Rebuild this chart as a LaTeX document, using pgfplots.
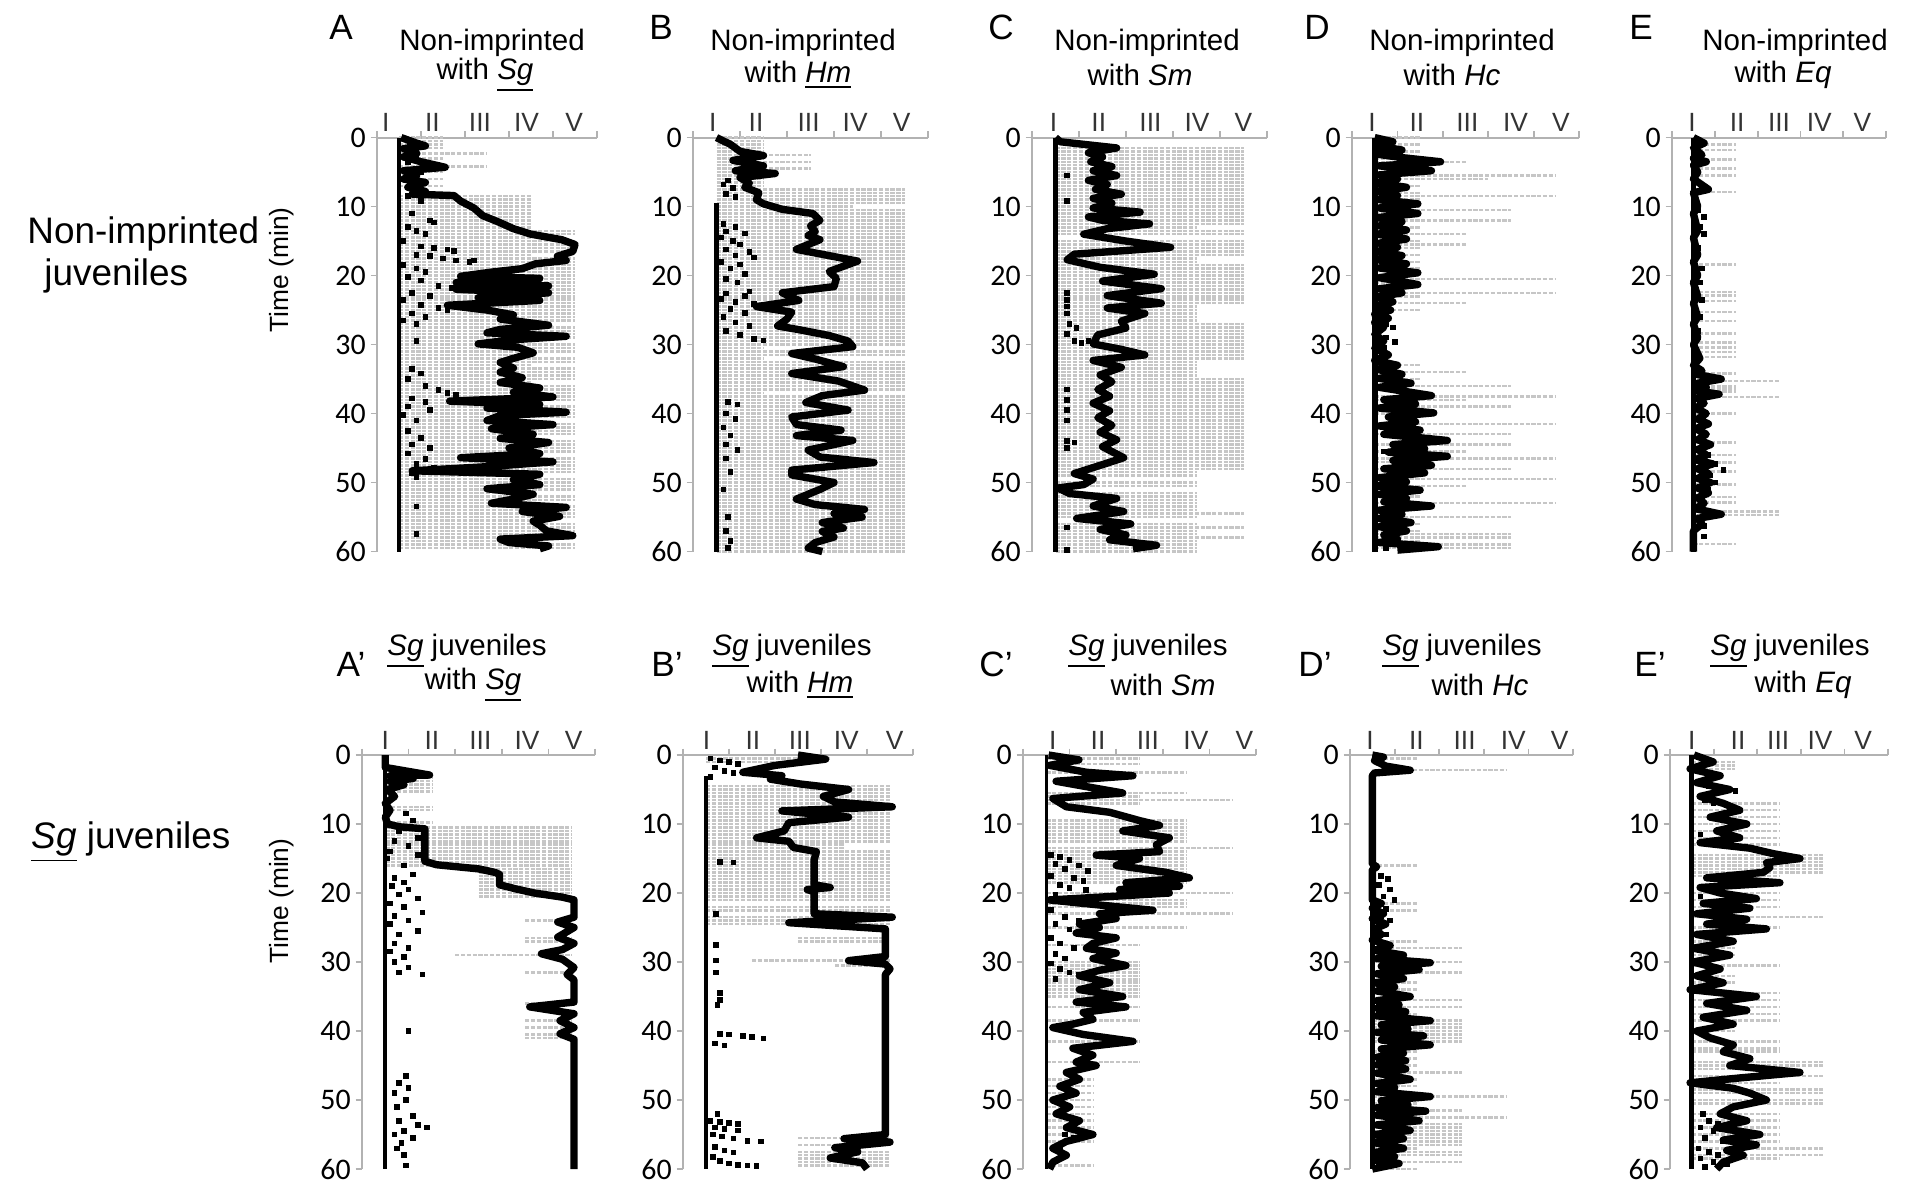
\documentclass[border=0pt]{standalone}
\usepackage{fontspec}
\setmainfont{Liberation Sans}
\newfontfamily\carlito{Carlito}
\usepackage{pgfplots}
\pgfplotsset{compat=1.18}

\pgfplotsset{
  panel/.style={
    scale only axis, anchor=north west,
    xmin=0, xmax=5, ymin=0, ymax=60, y dir=reverse,
    axis x line*=top, axis y line*=left, clip=false,
    axis line style={gray!60, line width=0.6pt},
    tick style={gray!60, line width=0.5pt},
    tick align=outside, major tick length=1.8pt,
    xtick={0,1,2,3,4,5}, xticklabels={,,,,,},
    ytick={0,10,20,30,40,50,60},
    /pgf/number format/assume math mode=true,
    yticklabel style={font=\carlito\fontsize{8.5}{9}\selectfont, inner sep=1.2pt},
    xticklabel style={font=\fontsize{7.5}{8}\selectfont, text=black!80, inner sep=1.5pt},
    extra x tick style={major tick length=0pt},
    extra x tick labels={I,II,III,IV,V},
  },
  graylines/.style={draw=none, mark=none, forget plot,
    error bars/x dir=plus, error bars/x explicit, error bars/error mark=none,
    error bars/error bar style={draw=gray!45, line width=0.7pt, dash pattern=on 1.2pt off 0.45pt}},
  stage/.style={black, line width=2.1pt, line join=round, mark=none},
  dots/.style={only marks, mark=square*, mark size=0.6pt, black},
  col/.style={black, mark=none, line width=#1},
}

\begin{document}
\begin{tikzpicture}

% ---------- A ----------
\begin{axis}[panel, at={(3.77cm,-1.376cm)}, width=2.20cm, height=4.139cm,
  extra x ticks={0.2,1.26,2.34,3.4,4.48}]
\addplot[graylines] table[x=x, y=y, x error=e, row sep=\\]{x y e\\
.5 0 1\\.5 .5 1\\.5 1 1\\.5 1.5 1\\.5 2.3 2\\.5 3 1\\.5 4.2 2\\.5 5 1\\.5 6 1\\.5 7 1\\
.5 8.5 3\\.5 9 3\\.5 9.5 3\\.5 10 3\\.5 10.5 3\\.5 11 3\\.5 11.5 3\\.5 12 3\\.5 12.5 3\\.5 13 3\\
.5 13.5 4\\.5 14 4\\.5 14.5 3\\.5 15 4\\.5 15.5 4\\.5 16 4\\.5 16.5 4\\.5 17 3\\.5 17.5 4\\.5 18 4\\
.5 18.5 4\\.5 19 4\\.5 19.5 4\\.5 20 4\\.5 20.5 4\\.5 21 4\\.5 21.5 4\\.5 22 4\\.5 22.5 4\\.5 23 4\\
.5 23.5 4\\.5 24 4\\.5 24.5 4\\.5 25 4\\.5 25.5 4\\.5 26 4\\.5 26.5 4\\.5 27 3\\.5 27.5 4\\.5 28 4\\
.5 28.5 4\\.5 29 4\\.5 29.5 3\\.5 30 4\\.5 30.5 4\\.5 31 4\\.5 31.5 3\\.5 32 4\\.5 32.5 4\\.5 33 3\\
.5 33.5 4\\.5 34 4\\.5 34.5 4\\.5 35 4\\.5 35.5 3\\.5 36 4\\.5 36.5 4\\.5 37 4\\.5 37.5 4\\.5 38 4\\
.5 38.5 3\\.5 39 4\\.5 39.5 4\\.5 40 4\\.5 40.5 4\\.5 41 3\\.5 41.5 4\\.5 42 4\\.5 42.5 4\\.5 43 4\\
.5 43.5 3\\.5 44 4\\.5 44.5 4\\.5 45 4\\.5 45.5 4\\.5 46 3\\.5 46.5 4\\.5 47 4\\.5 47.5 4\\.5 48 4\\
.5 48.5 4\\.5 49 3\\.5 49.5 4\\.5 50 4\\.5 50.5 4\\.5 51 4\\.5 51.5 3\\.5 52 4\\.5 52.5 4\\.5 53 3\\
.5 53.5 4\\.5 54 4\\.5 54.5 4\\.5 55 4\\.5 55.5 3\\.5 56 4\\.5 56.5 4\\.5 57 4\\.5 57.5 4\\.5 58 4\\
.5 58.5 3\\.5 59 4\\.5 59.5 4\\};
\addplot[col=1pt] coordinates {(0.5,0)(0.5,60)};
\addplot[dots] coordinates {(0.75,1)(0.9,2.5)(0.7,3.5)(1.0,5)(0.8,6.5)(0.7,8.5)(1.0,9.2)(0.8,11)(1.2,12)(1.3,12.3)(0.7,13)(0.9,13.5)(1.1,14)(0.6,15)(1.0,15.8)(1.3,16)(1.6,16.2)(1.75,16.4)(0.9,17)(1.2,17.2)(1.5,17.5)(1.8,17.8)(2.1,18)(2.2,17.8)(0.6,18.5)(0.9,19)(1.1,19.5)(0.7,20.2)(1.0,20.7)(1.4,21.5)(1.7,21.8)(1.9,22)(0.8,22.5)(1.2,23)(0.6,23.5)(1.0,24.3)(1.4,24.7)(1.6,25)(0.8,25.5)(1.1,26)(0.6,26.5)(0.9,27)(0.9,29.5)(0.8,33.5)(1.0,34.2)(0.7,35)(1.1,36)(1.4,36.6)(1.6,37)(1.8,37.3)(0.8,37.8)(1.1,38.3)(0.7,39)(1.2,39.5)(0.6,40.2)(0.9,41)(0.7,42.5)(1.0,43.5)(0.8,44.5)(1.2,45)(0.7,45.8)(1.1,46.6)(0.9,47.3)(1.3,47.8)(0.8,48.6)(0.9,49.2)(0.9,53.5)(0.9,57.5)};
\addplot[stage] coordinates {(0.55,0)(0.9,0.8)(1.1,1.2)(0.6,1.6)(0.9,2.3)(0.6,2.8)(1.0,3.5)(1.55,4.3)(0.6,4.8)(0.9,5.5)(0.6,6.0)(1.1,6.5)(0.7,7.2)(1.1,7.8)(0.8,8.2)(1.75,8.4)(1.9,9.2)(2.2,10.2)(2.4,11.3)(2.75,12.2)(3.1,13.2)(3.5,14.0)(4.2,14.8)(4.5,15.5)(4.45,16.5)(4.1,17.2)(4.3,17.8)(3.6,18.3)(3.3,19.0)(2.6,19.5)(1.9,20.1)(3.7,20.4)(1.8,21.0)(3.9,21.5)(1.8,22.0)(3.9,22.5)(2.3,23.2)(3.7,23.6)(1.6,24.3)(2.5,25.0)(3.1,25.7)(2.8,26.3)(3.9,27.2)(2.8,27.8)(2.5,28.3)(4.3,28.8)(3.1,29.3)(2.3,29.9)(3.2,30.4)(3.55,31.2)(3.1,32.0)(2.8,32.6)(3.1,33.4)(2.8,34.0)(3.3,34.8)(2.8,35.5)(3.7,36.3)(3.1,36.9)(4.0,37.6)(1.65,38.2)(3.7,38.7)(2.5,39.2)(4.3,39.8)(2.8,40.3)(2.5,41.0)(4.0,41.6)(2.6,42.2)(3.55,43.0)(2.8,43.6)(3.9,44.2)(3.0,45.0)(3.7,45.8)(1.9,46.4)(4.0,47.0)(2.5,47.7)(0.8,48.3)(3.7,48.8)(3.1,49.6)(3.7,50.3)(2.5,50.9)(3.55,51.7)(3.1,52.4)(2.6,53.0)(4.3,53.6)(3.3,54.2)(4.15,54.9)(3.55,55.6)(3.7,56.2)(3.85,57.0)(4.45,57.7)(2.8,58.2)(3.0,58.7)(3.9,59.2)(3.7,59.6)};
\end{axis}

% ---------- B ----------
\begin{axis}[panel, at={(6.93cm,-1.376cm)}, width=2.35cm, height=4.139cm,
  extra x ticks={0.42,1.34,2.46,3.45,4.44}]
\addplot[graylines] table[x=x, y=y, x error=e, row sep=\\]{x y e\\
.5 0 1\\.5 .5 1\\.5 1 1\\.5 1.5 1\\.5 2 1\\.5 2.5 2\\.5 3 1\\.5 3.5 2\\.5 4 1\\.5 4.5 2\\.5 5 1\\.5 5.5 1\\.5 6 1\\.5 6.5 1\\.5 7 1\\
.5 7.5 4\\.5 8 4\\.5 8.5 4\\.5 9 4\\.5 9.5 4\\.5 10 2.9\\.5 10.5 4\\.5 11 4\\.5 11.5 4\\.5 12 4\\
.5 12.5 4\\.5 13 4\\.5 13.5 4\\.5 14 4\\.5 14.5 4\\.5 15 4\\.5 15.5 4\\.5 16 4\\.5 16.5 4\\.5 17 4\\
.5 17.5 4\\.5 18 4\\.5 18.5 4\\.5 19 4\\.5 19.5 4\\.5 20 4\\.5 20.5 4\\.5 21 4\\.5 21.5 4\\.5 22 4\\
.5 22.5 4\\.5 23 4\\.5 23.5 4\\.5 24 4\\.5 24.5 4\\.5 25 4\\.5 25.5 4\\.5 26 4\\.5 26.5 4\\.5 27 4\\
.5 27.5 4\\.5 28 4\\.5 28.5 4\\.5 29 4\\.5 29.5 4\\.5 30 4\\.5 30.5 1\\.5 31 4\\.5 31.5 4\\.5 32 1\\
.5 32.5 4\\.5 33 4\\.5 33.5 4\\.5 34 4\\.5 34.5 4\\.5 35 4\\.5 35.5 4\\.5 36 4\\.5 36.5 4\\.5 37 1\\
.5 37.5 4\\.5 38 4\\.5 38.5 4\\.5 39 4\\.5 39.5 4\\.5 40 4\\.5 40.5 4\\.5 41 4\\.5 41.5 4\\.5 42 4\\
.5 42.5 4\\.5 43 4\\.5 43.5 4\\.5 44 4\\.5 44.5 4\\.5 45 4\\.5 45.5 4\\.5 46 4\\.5 46.5 4\\.5 47 4\\
.5 47.5 4\\.5 48 4\\.5 48.5 4\\.5 49 4\\.5 49.5 4\\.5 50 4\\.5 50.5 4\\.5 51 4\\.5 51.5 4\\.5 52 4\\
.5 52.5 4\\.5 53 4\\.5 53.5 4\\.5 54 4\\.5 54.5 4\\.5 55 4\\.5 55.5 4\\.5 56 4\\.5 56.5 4\\.5 57 4\\
.5 57.5 4\\.5 58 4\\.5 58.5 4\\.5 59 4\\.5 59.5 4\\.5 60 4\\};
\addplot[col=1.2pt] coordinates {(0.5,9.5)(0.5,60)};
\addplot[dots] coordinates {(0.75,6.2)(0.65,6.8)(0.85,7.3)(0.7,8.2)(0.9,8.6)(0.65,12.5)(0.9,13)(0.7,13.6)(1.1,13.9)(0.6,14.5)(0.85,15)(1.0,15.5)(0.7,16.2)(1.2,16.6)(0.9,17.1)(1.3,17.4)(0.6,18)(1.0,18.4)(0.8,19)(1.1,19.8)(0.7,20.5)(0.95,21)(1.2,22.3)(0.7,22.6)(1.1,23)(0.6,23.4)(0.9,23.8)(1.3,24.1)(0.8,24.8)(1.1,25.4)(0.65,26)(0.9,26.8)(1.2,27.3)(0.7,28)(1.0,28.6)(1.3,29.2)(1.5,29.4)(0.75,38.3)(0.95,38.7)(0.7,40)(0.9,40.8)(0.65,42)(0.8,43.2)(0.7,44.5)(0.95,45.3)(0.7,46.5)(0.8,48.5)(0.65,51)(0.75,55)(0.7,57)(0.8,58.5)(0.75,59.5)};
\addplot[stage] coordinates {(0.5,0)(0.8,1.0)(1.0,2.0)(1.5,2.6)(0.85,3.3)(1.5,4.1)(0.9,4.8)(1.75,5.2)(1.0,5.8)(1.2,6.6)(1.1,7.2)(1.4,8.0)(1.35,9.0)(1.5,9.6)(1.9,10.4)(2.55,11.0)(2.7,12.0)(2.5,12.8)(2.6,13.6)(2.45,14.2)(2.7,14.8)(2.2,16.2)(3.5,17.9)(2.9,19.4)(3.05,20.4)(3.0,21.6)(1.9,22.5)(2.25,23.6)(1.35,24.5)(2.1,25.3)(2.0,26.3)(1.8,27.3)(2.3,27.9)(2.9,28.7)(3.3,29.5)(3.4,30.3)(2.1,31.3)(2.6,32.1)(3.2,33.2)(2.1,34.2)(3.1,35.3)(3.65,36.6)(2.75,37.4)(2.4,38.4)(3.3,39.5)(2.1,40.5)(2.2,41.6)(3.15,42.4)(2.2,43.2)(3.4,43.9)(2.45,45.3)(2.7,46.3)(3.85,47.1)(2.1,48.2)(2.1,48.9)(3.0,50.0)(2.7,51.0)(2.2,52.4)(2.6,53.2)(3.65,53.9)(3.0,54.5)(3.6,55.0)(2.75,55.8)(3.2,56.6)(2.75,57.1)(3.0,57.9)(2.6,58.7)(2.45,59.5)(2.75,60)};
\end{axis}

% ---------- C ----------
\begin{axis}[panel, at={(10.32cm,-1.376cm)}, width=2.35cm, height=4.139cm,
  extra x ticks={0.46,1.42,2.52,3.51,4.5}]
\addplot[graylines] table[x=x, y=y, x error=e, row sep=\\]{x y e\\
.5 1.5 4\\.5 2 4\\.5 2.5 4\\.5 3 4\\.5 3.5 4\\.5 4 4\\.5 4.5 4\\.5 5 4\\.5 5.5 4\\.5 6 4\\
.5 6.5 4\\.5 7 4\\.5 7.5 4\\.5 8 4\\.5 8.5 4\\.5 9 4\\.5 9.5 4\\.5 10 4\\.5 10.5 4\\.5 11 4\\
.5 11.5 4\\.5 12 4\\.5 12.5 4\\.5 13 3\\.5 13.5 4\\.5 14 4\\.5 15 4\\.5 15.5 4\\.5 16 4\\.5 16.5 4\\
.5 17 4\\.5 17.5 3\\.5 18 3\\.5 18.5 4\\.5 19 4\\.5 19.5 4\\.5 20 4\\.5 20.5 4\\.5 21 4\\.5 21.5 4\\
.5 22 4\\.5 22.5 4\\.5 23 4\\.5 23.5 4\\.5 24 4\\.5 24.5 3\\.5 25 3\\.5 25.5 3\\.5 26 3\\.5 26.5 3\\
.5 27 4\\.5 27.5 4\\.5 28 4\\.5 28.5 4\\.5 29 4\\.5 29.5 4\\.5 30 4\\.5 30.5 4\\.5 31 4\\.5 31.5 4\\
.5 32 4\\.5 32.5 3\\.5 33 3\\.5 33.5 3\\.5 34 3\\.5 34.5 3\\.5 35 4\\.5 35.5 4\\.5 36 4\\.5 36.5 4\\
.5 37 4\\.5 37.5 4\\.5 38 4\\.5 38.5 4\\.5 39 4\\.5 39.5 4\\.5 40 4\\.5 40.5 4\\.5 41 4\\.5 41.5 4\\
.5 42 4\\.5 42.5 4\\.5 43 4\\.5 43.5 4\\.5 44 4\\.5 44.5 4\\.5 45 4\\.5 45.5 4\\.5 46 4\\.5 46.5 4\\
.5 47 4\\.5 47.5 4\\.5 48 4\\.5 48.5 3\\.5 49 3\\.5 50 3\\.5 50.5 3\\.5 51.5 3\\.5 52 3\\.5 52.5 3\\
.5 53 3\\.5 53.5 3\\.5 54 3\\.5 54.5 4\\.5 55 3\\.5 56 3\\.5 56.5 4\\.5 57 3\\.5 57.5 3\\.5 58 4\\
.5 58.5 3\\.5 59 3\\.5 59.5 3\\.5 60 3\\};
\addplot[col=1.6pt] coordinates {(0.5,0)(0.5,60)};
\addplot[dots] coordinates {(0.75,5.5)(0.75,9.2)(0.75,22.5)(0.75,23.5)(0.75,24.5)(0.75,25.5)(0.8,27)(0.95,27.6)(0.75,28.5)(0.9,29.5)(1.05,29.8)(1.2,29.5)(0.75,36.5)(0.75,38)(0.75,39.5)(0.75,41)(0.75,44)(0.9,44.2)(0.75,45)(0.75,56.5)(0.75,59.8)};
\addplot[stage] coordinates {(0.5,0)(0.6,0.6)(1.8,1.5)(1.2,2.2)(1.5,2.8)(1.25,3.5)(1.7,4.2)(1.3,4.8)(1.8,5.5)(1.2,6.2)(1.6,6.8)(1.35,7.5)(1.9,8.2)(1.3,8.8)(1.7,9.5)(1.3,10.2)(2.3,10.8)(1.2,11.5)(1.5,12.0)(2.5,12.5)(1.6,13.2)(1.1,14.0)(2.0,15.0)(2.95,15.9)(0.9,16.9)(0.75,17.7)(1.45,18.8)(2.6,19.8)(1.5,20.8)(2.75,21.9)(1.6,22.9)(2.75,24.0)(1.6,24.7)(2.4,25.5)(1.9,26.6)(2.0,27.6)(1.4,28.6)(1.3,29.9)(1.9,30.7)(2.4,31.5)(1.3,32.3)(1.9,33.3)(1.45,34.4)(1.7,35.4)(1.4,36.5)(1.65,37.5)(1.3,38.5)(1.65,39.6)(1.4,40.6)(1.7,41.7)(1.45,42.7)(1.8,43.8)(1.5,44.8)(1.95,46.4)(1.5,47.4)(0.9,48.7)(1.3,49.5)(1.1,50.3)(0.55,50.8)(0.8,51.6)(1.8,52.3)(1.3,53.4)(1.95,54.2)(0.95,55.2)(2.1,56.0)(1.45,56.8)(2.0,57.6)(1.65,58.3)(2.65,59.1)(2.15,59.6)};
\end{axis}

% ---------- D ----------
\begin{axis}[panel, at={(13.52cm,-1.376cm)}, width=2.27cm, height=4.139cm,
  extra x ticks={0.44,1.43,2.54,3.6,4.6}]
\addplot[graylines] table[x=x, y=y, x error=e, row sep=\\]{x y e\\
.5 0 1\\.5 1 1\\.5 2 1\\.5 3 1\\.5 4 1\\.5 5 1\\.5 7 1\\.5 8 1\\.5 9 1\\.5 10 1\\.5 11 1\\.5 13 1\\
.5 15 1\\.5 16 1\\.5 17 1\\.5 18 1\\.5 19 1\\.5 21 1\\.5 23 1\\.5 25 1\\.5 33 1\\.5 35 1\\.5 40 1\\
.5 42 1\\.5 47 1\\.5 51 1\\.5 52 1\\.5 54 1\\.5 56 1\\.5 57 1\\.5 58.5 1\\
.5 3.5 2\\.5 5.5 4\\.5 6 2.5\\.5 8.5 4\\.5 10.5 3\\.5 12 3\\.5 14 2\\.5 15.5 2\\.5 20.5 4\\.5 22.5 4\\
.5 24 2\\.5 34 2\\.5 36 3\\.5 37.5 4\\.5 38 2\\.5 39 3\\.5 41.5 4\\.5 43 3\\.5 44.5 3\\.5 45.5 2\\
.5 46.5 4\\.5 48 3\\.5 49.5 4\\.5 50.5 2\\.5 53 4\\.5 55 3\\.5 57.5 3\\.5 58 3\\.5 59 3\\.5 59.5 3\\};
\addplot[col=1.6pt] coordinates {(0.5,0)(0.5,60)};
\addplot[dots] coordinates {(0.75,27)(0.9,27.5)(0.75,29)(0.95,29.6)(0.7,30.5)(0.75,38)(0.7,45.5)(0.75,59.5)};
\addplot[stage] coordinates {(0.5,0)(0.9,0.6)(0.55,1.2)(1.1,1.8)(0.55,2.4)(1.1,2.9)(1.95,3.5)(0.6,4.1)(1.75,4.8)(0.6,5.4)(1.0,6.0)(0.55,6.6)(1.2,7.2)(0.55,7.8)(1.0,8.4)(0.6,9.0)(1.45,9.6)(0.6,10.2)(1.45,11.0)(0.55,11.6)(1.1,12.2)(0.6,12.8)(1.2,13.4)(0.55,14.0)(1.2,14.7)(0.6,15.3)(1.0,15.9)(0.55,16.5)(1.1,17.1)(0.55,17.7)(1.2,18.3)(0.6,18.9)(1.45,19.6)(0.6,20.3)(1.45,21.3)(0.6,21.9)(1.1,22.5)(0.55,23.1)(0.9,23.8)(0.55,24.4)(0.85,25.0)(0.5,25.6)(0.8,26.2)(0.5,26.8)(0.7,27.5)(0.5,28.5)(0.7,29.5)(0.5,30.5)(0.8,31.5)(0.5,32.3)(1.0,33.0)(0.55,33.6)(1.1,34.3)(0.6,34.9)(1.3,35.6)(0.6,36.2)(1.75,37.4)(0.7,38.0)(1.4,38.6)(0.6,39.2)(1.8,39.9)(0.8,40.5)(1.4,41.2)(0.6,41.8)(1.5,42.4)(0.7,43.0)(2.1,43.9)(0.9,44.5)(1.6,45.1)(0.8,45.6)(2.1,46.2)(0.9,46.8)(1.75,47.5)(0.7,48.0)(1.6,48.6)(0.6,49.3)(1.2,49.9)(0.55,50.5)(1.5,51.1)(0.6,51.7)(1.2,52.3)(0.7,52.8)(1.75,53.4)(0.6,54.0)(1.1,54.6)(0.6,55.2)(1.3,55.8)(0.6,56.4)(1.2,57.0)(0.7,57.6)(1.0,58.2)(0.6,58.7)(1.9,59.3)(1.0,59.8)};
\end{axis}

% ---------- E ----------
\begin{axis}[panel, at={(16.72cm,-1.376cm)}, width=2.14cm, height=4.139cm,
  extra x ticks={0.47,1.52,2.5,3.44,4.45}]
\addplot[graylines] table[x=x, y=y, x error=e, row sep=\\]{x y e\\
.5 1 1\\.5 1.8 1\\.5 3.2 1\\.5 4.5 1\\.5 5.5 1\\.5 7.9 1\\.5 18.4 1\\.5 22.4 1\\.5 22.9 1\\.5 23.7 1\\
.5 25.3 1\\.5 26.6 1\\.5 28.4 1\\.5 29.7 1\\.5 30.4 1\\.5 31.1 1\\.5 31.8 1\\.5 34.2 1\\.5 35.3 2\\.5 36.1 1\\
.5 36.5 1\\.5 36.8 1\\.5 37.6 2\\.5 40 1\\.5 44.2 1\\.5 46 1\\.5 47.1 1\\.5 48.4 1\\.5 50.3 1\\.5 52.1 1\\
.5 52.9 1\\.5 54.2 2\\.5 54.7 2\\.5 58.9 1\\};
\addplot[col=1.6pt] coordinates {(0.5,0)(0.5,60)};
\addplot[dots] coordinates {(0.7,7.2)(0.6,10.5)(0.75,11.5)(0.65,13)(0.75,14)(0.6,16)(0.7,19)(0.65,21)(0.7,23.5)(0.65,26)(0.6,28)(0.8,44.8)(0.85,46)(1.0,47.3)(1.2,48.2)(0.9,49)(1.0,50)(0.85,51)(0.75,56.3)(0.75,57.8)};
\addplot[stage] coordinates {(0.5,0)(0.75,0.8)(0.5,1.5)(0.7,2.5)(0.5,3)(0.8,3.5)(0.5,4)(0.6,5)(0.5,6)(0.85,7.5)(0.5,8)(0.6,10)(0.5,11)(0.6,13.5)(0.5,14.5)(0.6,17)(0.5,18)(0.6,20)(0.5,21)(0.6,23)(0.5,24)(0.6,26)(0.5,27)(0.6,29)(0.5,30)(0.65,32)(0.5,33)(0.7,33.8)(0.55,34.3)(1.15,35.0)(0.6,35.6)(0.8,36.2)(0.55,36.7)(1.1,37.2)(0.6,37.8)(0.75,38.5)(0.55,39.2)(0.8,40)(0.6,40.8)(0.85,41.5)(0.55,42.2)(0.8,43)(0.6,43.8)(0.9,44.5)(0.6,45.2)(0.8,46)(0.55,46.7)(0.95,47.3)(0.6,48)(0.85,48.7)(0.6,49.4)(0.9,50)(0.6,50.8)(0.85,51.5)(0.6,52.2)(0.75,53)(0.55,53.8)(1.15,54.6)(0.6,55.2)(0.7,56)(0.5,57)(0.5,60)};
\end{axis}

% ---------- A' ----------
\begin{axis}[panel, at={(3.62cm,-7.55cm)}, width=2.33cm, height=4.14cm,
  extra x ticks={0.5,1.5,2.54,3.54,4.54}]
\addplot[graylines] table[x=x, y=y, x error=e, row sep=\\]{x y e\\
.5 2.8 1\\.5 3.3 1\\.5 3.8 1\\.5 4.3 1\\.5 4.8 1\\.5 5.3 1\\.5 7.5 1\\.5 8 1\\.5 9.8 1\\
.5 10.5 4\\.5 11 4\\.5 11.5 4\\.5 12 4\\.5 12.5 4\\.5 13 4\\.5 13.5 4\\.5 14 4\\.5 14.5 4\\.5 15 4\\.5 15.5 4\\.5 16 4\\
2.5 16.5 2\\2.5 17 2\\2.5 17.5 2\\2.5 18 2\\2.5 18.5 2\\2.5 19 2\\2.5 19.5 2\\2.5 20 2\\2.5 20.5 2\\
3.5 24 1\\3.5 26.5 1\\3.5 27 1\\2 29 2.5\\3.5 31.5 1\\3.5 36 1\\3.5 38.5 1\\3.5 39.5 1\\3.5 40.5 1\\3.5 41 1\\};
\addplot[col=1.2pt] coordinates {(0.5,0)(0.5,60)};
\addplot[dots] coordinates {(0.95,8.5)(1.1,9.5)(0.8,11)(1.2,12)(0.7,12.5)(1.0,13.2)(0.6,14)(1.2,14.5)(0.55,15)(0.9,16)(1.1,17.3)(0.7,17.8)(0.9,18.5)(0.65,19)(1.0,19.5)(0.8,20.2)(1.2,20.8)(0.6,21.5)(0.9,22)(1.3,22.8)(0.7,23.3)(1.0,24)(0.6,24.5)(1.2,25.5)(0.8,26)(0.7,27.3)(1.0,28)(0.6,28.5)(0.9,29.3)(0.7,30)(1.0,30.8)(0.8,31.5)(1.3,31.8)(1.0,40)(0.95,46.5)(0.8,47.5)(1.0,48.3)(0.7,49)(0.95,50)(0.75,51)(1.1,52.3)(0.8,53)(1.2,53.6)(1.4,54)(0.9,54.5)(0.7,55)(1.1,55.5)(0.85,56.2)(0.75,57)(0.9,58)(0.95,59.5)};
\addplot[stage] coordinates {(0.5,0)(0.5,1.8)(1.45,2.9)(0.6,3.0)(1.1,3.4)(0.6,3.8)(0.9,4.3)(0.55,5)(0.7,6)(0.5,7)(0.6,8)(0.5,9)(0.55,10)(0.8,10.4)(1.35,10.7)(1.35,15.4)(1.6,15.9)(2.5,16.5)(2.85,17.0)(2.95,17.3)(2.95,18.8)(3.3,19.4)(3.7,20.0)(4.3,20.6)(4.55,21.0)(4.55,23.5)(4.2,24.2)(4.55,25.0)(4.2,26.4)(4.55,27.3)(4.3,28.2)(3.85,28.8)(4.3,29.6)(4.55,30.8)(4.4,31.8)(4.55,32.6)(4.55,35.8)(3.6,36.5)(4.55,37.5)(4.25,38.5)(4.55,39.5)(4.25,40.4)(4.55,41.2)(4.55,60)};
\end{axis}

% ---------- B' ----------
\begin{axis}[panel, at={(6.83cm,-7.55cm)}, width=2.30cm, height=4.14cm,
  extra x ticks={0.51,1.52,2.54,3.55,4.6}]
\addplot[graylines] table[x=x, y=y, x error=e, row sep=\\]{x y e\\
.5 0.5 2.7\\.5 1 2\\.5 4.5 4\\.5 5 4\\.5 5.5 4\\.5 6 4\\.5 6.5 4\\.5 7 4\\.5 7.5 4\\.5 8 4\\.5 8.5 4\\
.5 9 4\\.5 9.5 4\\.5 10 4\\.5 10.5 4\\.5 11 4\\.5 11.5 4\\.5 12 4\\.5 12.5 4\\.5 13 3\\.5 13.5 3\\
.5 14 4\\.5 14.5 4\\.5 15 4\\.5 15.5 4\\.5 16 4\\.5 16.5 4\\.5 17 4\\.5 17.5 4\\.5 18 4\\.5 18.5 4\\
.5 19 4\\.5 19.5 4\\.5 20 4\\.5 20.5 4\\.5 21 4\\.5 22 4\\.5 22.5 4\\.5 23.5 4\\.5 24 4\\.5 24.5 4\\
2.5 26.5 2\\2.5 27 2\\1.5 29.8 3\\3.3 30.5 1.2\\
2.5 55.5 2\\2.5 56.5 2\\2.5 57.5 2\\2.5 58 2\\2.5 58.5 2\\2.5 59 2\\2.5 59.5 2\\};
\addplot[col=1.4pt] coordinates {(0.5,3)(0.5,60)};
\addplot[dots] coordinates {(0.6,0.5)(0.8,0.8)(1.0,1.0)(1.2,1.3)(0.7,1.8)(0.9,2.3)(1.1,2.6)(0.6,3.2)(0.8,15.5)(1.1,15.6)(0.72,23)(0.72,27.5)(0.72,29.8)(0.72,31.5)(0.8,34.5)(0.8,35.5)(0.75,36.2)(0.8,40.4)(1.0,40.5)(1.3,40.7)(1.5,40.9)(1.75,41.1)(0.7,41.8)(0.9,42.1)(0.75,52)(0.6,53)(0.8,53.2)(1.0,53.3)(1.2,53.5)(0.7,54)(0.9,54.2)(1.2,54.4)(0.65,55)(0.85,55.3)(1.1,55.6)(1.4,55.9)(1.7,56)(0.7,56.8)(0.9,57.3)(1.1,57.6)(0.65,58.3)(0.8,58.8)(1.0,59.2)(1.2,59.4)(1.4,59.5)(1.6,59.6)};
\addplot[stage] coordinates {(2.5,0)(3.1,0.6)(2.0,1.5)(1.3,2.5)(2.15,3.0)(1.9,3.5)(2.55,4.2)(3.6,5.0)(3.05,6.0)(3.3,6.8)(4.55,7.5)(2.15,8.1)(3.6,9.0)(2.3,9.8)(2.2,11.0)(1.6,12.0)(2.3,12.5)(2.4,13.4)(2.9,14.0)(2.85,15.2)(2.85,18.8)(3.2,19.2)(2.7,19.5)(2.85,19.8)(2.85,23.0)(4.55,23.5)(2.3,24.3)(4.4,25.2)(4.4,29.2)(3.6,29.8)(4.4,30.3)(4.5,31.0)(4.4,31.8)(4.4,55.0)(3.5,55.6)(4.5,56.1)(3.3,56.9)(3.8,57.5)(3.2,58.4)(3.9,59.1)(4.0,60)};
\end{axis}

% ---------- C' ----------
\begin{axis}[panel, at={(10.23cm,-7.55cm)}, width=2.33cm, height=4.14cm,
  extra x ticks={0.64,1.61,2.68,3.71,4.75}]
\addplot[graylines] table[x=x, y=y, x error=e, row sep=\\]{x y e\\
.5 0.5 2\\.5 1.3 2\\.5 2.5 3\\.5 5.5 3\\.5 6 2\\.5 6.5 4\\.5 7 2\\.5 9.5 3\\.5 10 3\\.5 10.5 3\\
.5 11 3\\.5 11.5 3\\.5 12 3\\.5 12.5 3\\.5 13.5 4\\.5 14 3\\.5 14.5 3\\.5 15 3\\.5 15.5 3\\.5 16 3\\
.5 16.5 3\\.5 17 3\\.5 17.5 3\\.5 18 3\\.5 18.5 3\\.5 20 4\\.5 21 3\\.5 21.5 3\\.5 22 3\\.5 23 4\\
.5 25 3\\.5 27.5 2\\.5 30 2\\.5 30.5 2\\.5 31 2\\.5 31.5 2\\.5 32 2\\.5 32.5 2\\.5 33 2\\.5 33.5 2\\
.5 34 2\\.5 34.5 2\\.5 35 2\\.5 36.5 2\\.5 38.5 2\\.5 41.5 2\\.5 44.5 2\\.5 47 1\\.5 48 1\\.5 49 1\\
.5 50 1\\.5 51 1\\.5 52 1\\.5 53 1\\.5 54 1\\.5 55 1\\.5 56 1\\.5 59.5 1\\};
\addplot[col=1pt] coordinates {(0.5,0)(0.5,60)};
\addplot[dots] coordinates {(0.6,14.5)(0.8,14.8)(1.0,15.2)(0.7,15.8)(1.2,16)(0.9,16.5)(1.4,16.8)(0.6,17.5)(1.1,17.8)(1.3,18.3)(0.8,18.8)(1.0,19.3)(1.35,19.6)(0.7,20.3)(0.6,22.5)(0.9,23.5)(1.2,24)(0.7,24.5)(1.0,25.3)(0.6,26.5)(0.8,27.3)(1.1,28)(0.7,28.8)(0.9,29.5)(0.6,30.2)(0.8,31)(1.0,31.5)(1.2,31.8)(1.4,32)(0.7,32.5)(0.9,55)(1.1,55.5)(0.8,57)};
\addplot[stage] coordinates {(0.55,0)(1.2,0.7)(0.57,1.5)(1.36,2.5)(2.36,3.0)(0.71,3.8)(1.29,4.5)(2.14,5.5)(0.64,6.3)(0.93,7.5)(1.86,8.3)(2.5,9.5)(2.93,10.2)(2.14,11)(3.14,12)(2.86,13)(2.93,14)(1.57,14.5)(2.5,15)(2.0,16)(3.07,17)(3.57,17.8)(2.21,18.5)(3.36,19)(2.07,19.5)(3.14,20)(1.64,20.6)(0.57,21)(1.29,21.5)(2.79,22.5)(1.64,23)(2.0,23.7)(1.21,24.5)(1.64,25)(1.14,25.8)(2.0,26.5)(1.5,27.3)(1.36,28)(2.0,28.7)(1.5,29.5)(2.21,30.5)(1.64,31.2)(1.21,32)(1.86,33)(1.21,34)(2.14,35)(1.14,35.8)(2.21,36.5)(1.29,37.3)(1.5,38.3)(1.07,39)(0.64,39.5)(1.29,40.5)(2.36,41.5)(1.07,42.5)(1.5,43.5)(1.14,44.5)(1.57,45)(0.93,46)(1.21,47)(0.79,48)(1.14,49)(0.64,50)(1.0,51)(0.71,52)(1.21,53)(0.93,54)(1.5,55)(0.93,56)(0.64,57)(0.93,58)(0.64,59)(0.57,60)};
\end{axis}

% ---------- D' ----------
\begin{axis}[panel, at={(13.50cm,-7.55cm)}, width=2.23cm, height=4.14cm,
  extra x ticks={0.45,1.49,2.57,3.66,4.7}]
\addplot[graylines] table[x=x, y=y, x error=e, row sep=\\]{x y e\\
.5 0.5 1\\.5 2.2 3\\.5 16 1\\.5 21.5 1\\.5 22.5 1\\.5 27 1\\.5 28 2\\.5 30 2\\.5 31.5 2\\.5 33 1\\
.5 34 1\\.5 35.5 2\\.5 36.5 2\\.5 37.5 1\\.5 38.5 2\\.5 39 2\\.5 39.5 2\\.5 40 2\\.5 40.5 2\\.5 41 2\\
.5 41.5 2\\.5 43 1\\.5 44 1\\.5 45 1\\.5 46 2\\.5 47 1\\.5 48 1\\.5 49.5 3\\.5 50.5 1\\.5 51.5 2\\
.5 52.5 3\\.5 53.5 2\\.5 54 2\\.5 54.5 2\\.5 55 2\\.5 55.5 2\\.5 56 2\\.5 56.5 2\\.5 57 1\\.5 57.5 2\\
.5 58 2\\.5 59 2\\.5 60 1\\};
\addplot[col=1.3pt] coordinates {(0.5,16)(0.5,60)};
\addplot[dots] coordinates {(0.7,17.5)(0.85,18)(0.65,18.8)(0.9,19.5)(0.75,20.5)(1.0,21)(0.6,21.8)(0.8,22.3)(0.7,23.4)(0.9,24)(0.6,25)(0.8,26)(0.7,27.5)(0.6,28.5)};
\addplot[stage] coordinates {(0.5,0)(0.75,0.3)(0.55,0.8)(0.8,1.6)(1.35,2.2)(0.55,2.6)(0.5,3)(0.5,15.8)(0.6,16.2)(0.5,16.6)(0.5,21)(0.7,21.5)(0.5,22.2)(0.75,23)(0.5,23.7)(0.8,24.5)(0.55,25.2)(0.7,26)(0.5,26.8)(0.9,27.6)(0.55,28.3)(1.2,29)(0.6,29.5)(1.8,30.1)(0.7,30.6)(1.55,31.1)(0.6,31.7)(1.2,32.4)(0.55,33.0)(1.0,33.6)(0.6,34.2)(1.35,35.0)(0.6,35.6)(1.1,36.2)(0.6,36.7)(1.25,37.2)(0.6,37.8)(1.8,38.5)(0.7,39.1)(1.3,39.7)(0.6,40.2)(1.65,40.7)(0.7,41.3)(1.8,42.0)(0.7,42.6)(1.2,43.2)(0.6,43.8)(1.25,44.3)(0.6,44.9)(1.25,45.5)(0.6,46.1)(1.35,47.0)(0.6,47.6)(1.0,48.2)(0.6,48.8)(1.8,49.5)(0.7,50.1)(1.3,50.7)(0.6,51.1)(1.7,51.6)(0.6,52.2)(1.55,53.0)(0.6,53.6)(1.35,54.4)(0.55,55.0)(1.2,55.6)(0.55,56.2)(1.2,57.0)(0.55,57.6)(1.0,58.2)(0.55,58.7)(1.1,59.2)(0.5,60)};
\end{axis}

% ---------- E' ----------
\begin{axis}[panel, at={(16.70cm,-7.55cm)}, width=2.18cm, height=4.14cm,
  extra x ticks={0.5,1.56,2.48,3.44,4.43}]
\addplot[graylines] table[x=x, y=y, x error=e, row sep=\\]{x y e\\
.5 1 1\\.5 1.5 1\\.5 2 1\\.5 7 2\\.5 8 2\\.5 9 2\\.5 10 2\\.5 11 2\\.5 12 2\\.5 13 2\\
.5 14.5 3\\.5 15 3\\.5 15.5 3\\.5 16 3\\.5 16.5 3\\.5 17 3\\.5 17.5 2\\.5 20 2\\.5 21 2\\.5 22 2\\
.5 23.5 3\\.5 25 2\\.5 27 1\\.5 28 1\\.5 29 1\\.5 30.5 2\\.5 32 1\\.5 33 1\\.5 34.5 2\\.5 35.5 2\\
.5 36.5 2\\.5 37.5 2\\.5 38.5 2\\.5 40 1\\.5 41.5 2\\.5 42.5 2\\.5 43 2\\.5 44.5 3\\.5 45 3\\.5 45.5 2\\
.5 46.5 3\\.5 47.5 2\\.5 48.5 3\\.5 49 3\\.5 50 3\\.5 50.5 3\\.5 52 2\\.5 53 2\\.5 54 2\\.5 55 2\\
.5 56 2\\.5 57 3\\.5 58 3\\.5 58.5 2\\};
\addplot[col=1.4pt] coordinates {(0.5,0)(0.5,60)};
\addplot[dots] coordinates {(0.9,4.5)(1.1,4.8)(1.3,5)(1.5,5.2)(0.8,6.5)(1.0,7)(0.7,11.5)(0.7,20.5)(0.75,52)(0.9,53)(1.1,53.5)(0.7,54)(1.0,54.5)(0.8,55.5)(1.2,56)(0.65,57)(0.9,57.5)(1.1,58)(0.7,58.5)(1.0,59)(1.3,59.3)(0.8,59.7)};
\addplot[stage] coordinates {(0.55,0)(0.99,1)(0.46,2)(1.15,3)(0.61,4)(1.37,5)(0.69,6)(1.22,7)(1.6,8)(0.92,9)(1.76,10)(1.07,11)(1.6,12)(0.69,12.7)(1.83,13.5)(2.37,14.3)(2.98,15)(2.21,15.6)(2.29,16.3)(2.14,17)(0.84,17.8)(2.52,18.5)(0.69,19.2)(1.15,20)(1.98,20.8)(0.76,21.5)(1.83,22.2)(0.61,23)(1.76,23.8)(0.84,24.5)(2.21,25.2)(0.61,26)(1.45,27)(0.53,28)(1.37,29)(0.53,30)(1.15,31)(0.61,32)(1.22,33)(0.46,34)(1.98,35)(0.84,36)(1.76,37)(0.76,38)(1.45,39)(0.61,40)(0.92,41)(1.45,42)(1.22,43)(1.83,44)(1.37,45)(2.98,46)(1.6,46.8)(0.46,47.5)(1.45,48.3)(1.83,49)(2.21,50)(1.45,51)(1.15,52)(1.76,53)(1.07,54)(2.06,55)(1.22,55.8)(1.98,56.5)(1.3,57.3)(1.68,58)(1.22,59)(1.07,60)};
\end{axis}

% ---------- texts ----------
\tikzset{lt/.style={font=\fontsize{10}{12}\selectfont},
         tt/.style={font=\fontsize{8.4}{10}\selectfont}}
\node[lt] at (3.41,-0.27) {A};
\node[lt] at (6.61,-0.27) {B};
\node[lt] at (10.01,-0.27) {C};
\node[lt] at (13.17,-0.27) {D};
\node[lt] at (16.41,-0.27) {E};
\node[lt] at (3.51,-6.64) {A'};
\node[lt] at (6.67,-6.64) {B'};
\node[lt] at (9.96,-6.64) {C'};
\node[lt] at (13.15,-6.64) {D'};
\node[lt] at (16.50,-6.64) {E'};

\node[tt] at (4.92,-0.43) {Non-imprinted};
\node[tt] at (4.85,-0.75) {with \underline{\textit{Sg}}};
\node[tt] at (8.03,-0.43) {Non-imprinted};
\node[tt] at (7.98,-0.75) {with \underline{\textit{Hm}}};
\node[tt] at (11.47,-0.43) {Non-imprinted};
\node[tt] at (11.40,-0.75) {with \textit{Sm}};
\node[tt] at (14.62,-0.43) {Non-imprinted};
\node[tt] at (14.52,-0.75) {with \textit{Hc}};
\node[tt] at (17.95,-0.43) {Non-imprinted};
\node[tt] at (17.83,-0.75) {with \textit{Eq}};

\node[tt] at (4.67,-6.51) {\underline{\textit{Sg}} juveniles};
\node[tt] at (4.73,-6.85) {with \underline{\textit{Sg}}};
\node[tt] at (7.92,-6.51) {\underline{\textit{Sg}} juveniles};
\node[tt] at (8.00,-6.85) {with \underline{\textit{Hm}}};
\node[tt] at (11.48,-6.51) {\underline{\textit{Sg}} juveniles};
\node[tt] at (11.63,-6.85) {with \textit{Sm}};
\node[tt] at (14.62,-6.51) {\underline{\textit{Sg}} juveniles};
\node[tt] at (14.80,-6.85) {with \textit{Hc}};
\node[tt] at (17.90,-6.51) {\underline{\textit{Sg}} juveniles};
\node[tt] at (18.03,-6.85) {with \textit{Eq}};

\node[font=\fontsize{10.5}{12}\selectfont, anchor=west] at (0.15,-2.34) {Non-imprinted};
\node[font=\fontsize{10.5}{12}\selectfont, anchor=west] at (0.32,-2.76) {juveniles};
\node[font=\fontsize{10.5}{12}\selectfont, anchor=west] at (0.19,-8.42) {\underline{\textit{Sg}} juveniles};

\node[font=\fontsize{7.5}{9}\selectfont, rotate=90] at (2.82,-2.70) {Time (min)};
\node[font=\fontsize{7.5}{9}\selectfont, rotate=90] at (2.82,-9.01) {Time (min)};

\pgfresetboundingbox
\path[use as bounding box] (0,0) rectangle (19.09,-11.86);
\end{tikzpicture}
\end{document}
